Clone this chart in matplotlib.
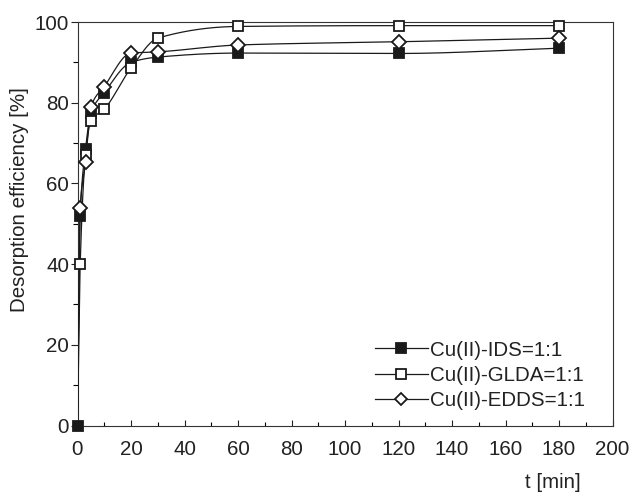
import numpy as np
import matplotlib
matplotlib.use("Agg")
import matplotlib.pyplot as plt
from matplotlib.ticker import MultipleLocator
from matplotlib.lines import Line2D

plt.rcParams['font.family'] = ['Liberation Sans', 'DejaVu Sans']

t = [0, 1, 3, 5, 10, 20, 30, 60, 120, 180]
ids = [0, 52, 68.5, 77.5, 82.5, 90, 91.3, 92.3, 92.2, 93.5]
glda = [0, 40, 67, 75.5, 78.4, 88.6, 96, 98.9, 99.1, 99.1]
edds = [0, 54, 65.2, 78.9, 84, 92.3, 92.6, 94.3, 95.1, 96]
labels = ['Cu(II)-IDS=1:1', 'Cu(II)-GLDA=1:1', 'Cu(II)-EDDS=1:1']


def pchip(x, y, xs):
    x = np.asarray(x, float); y = np.asarray(y, float)
    h = np.diff(x); d = np.diff(y) / h
    n = len(x); m = np.zeros(n)
    for k in range(1, n - 1):
        if d[k - 1] * d[k] > 0:
            w1 = 2 * h[k] + h[k - 1]; w2 = h[k] + 2 * h[k - 1]
            m[k] = (w1 + w2) / (w1 / d[k - 1] + w2 / d[k])
    m[0] = d[0]; m[-1] = d[-1]
    idx = np.clip(np.searchsorted(x, xs) - 1, 0, n - 2)
    hh = h[idx]; s = (xs - x[idx]) / hh
    h00 = 2 * s**3 - 3 * s**2 + 1; h10 = s**3 - 2 * s**2 + s
    h01 = -2 * s**3 + 3 * s**2; h11 = s**3 - s**2
    return h00 * y[idx] + h10 * hh * m[idx] + h01 * y[idx + 1] + h11 * hh * m[idx + 1]


FS = 14.8
fig = plt.figure(figsize=(6.32, 4.95), dpi=100)
ax = fig.add_axes([77.5 / 632, 1 - 425.5 / 495, (612.5 - 77.5) / 632, (425.5 - 22) / 495])

xs = np.linspace(0, 180, 1500)
col = '#1a1a1a'
series = [(ids, 's', col, 7.2), (glda, 's', 'white', 7.2), (edds, 'D', 'white', 7.2)]
for i, (vals, mk, fc, ms) in enumerate(series):
    ax.plot(xs, pchip(t, vals, xs), color=col, lw=0.9, zorder=2 + i)
    me = None if i == 0 else list(range(1, len(t)))
    ax.plot(t, vals, ls='none', marker=mk, ms=ms, markevery=me,
            mfc=fc, mec=col, mew=1.3, clip_on=False, zorder=5 + i)

ax.set_xlim(0, 200)
ax.set_ylim(0, 100)
ax.xaxis.set_major_locator(MultipleLocator(20))
ax.xaxis.set_minor_locator(MultipleLocator(10))
ax.yaxis.set_major_locator(MultipleLocator(20))
ax.yaxis.set_minor_locator(MultipleLocator(10))
ax.tick_params(axis='x', which='major', direction='in', length=4, width=0.8, labelsize=FS, pad=10.5, colors='#222')
ax.tick_params(axis='x', which='minor', direction='in', length=3, width=0.8)
ax.tick_params(axis='y', which='major', direction='out', length=5, width=0.8, labelsize=FS, pad=1, colors='#222')
ax.tick_params(axis='y', which='minor', direction='out', length=3.5, width=0.8)
for sp in ax.spines.values():
    sp.set_linewidth(0.8)
    sp.set_color('#333')

ax.set_ylabel('Desorption efficiency [%]', fontsize=FS, color='#222')
ax.yaxis.set_label_coords(-0.09, 0.561)
fig.text(581 / 632, 1 - 483 / 495, 't [min]', ha='right', va='center', fontsize=FS, color='#222')

handles = [Line2D([], [], color=col, lw=0.9, marker=m, ms=6.5, mfc=fc, mec=col, mew=1.3)
           for (_, m, fc, _) in series]
leg = ax.legend(handles, labels, loc='lower right', bbox_to_anchor=(585 / 632, 1 - 410 / 495),
                bbox_transform=fig.transFigure, frameon=False, fontsize=FS,
                handlelength=2.6, handletextpad=0.1, labelspacing=0.3, borderpad=0, borderaxespad=0)
for txt in leg.get_texts():
    txt.set_color('#222')

fig.savefig('out.png', dpi=100)
